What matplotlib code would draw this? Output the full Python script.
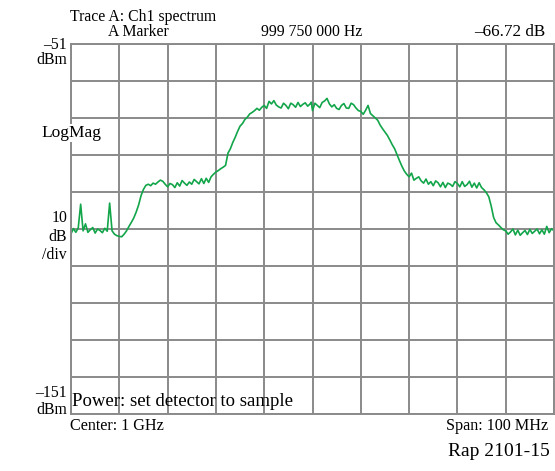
import numpy as np
import matplotlib
matplotlib.use("Agg")
import matplotlib.pyplot as plt

# ===== trace data (Ch1 spectrum, 0.5 MHz steps, 950..1050 MHz) =====
f_start = 950.0
f_stop = 1050.0
ref_level = -51
bottom_level = -151

level_dbm = [
    -102.3, -100.9, -101.9, -100.7, -94.3, -101.5, -99.6, -101.9, -101.2, -100.6,
    -102.1, -101.0, -101.4, -102.0, -100.8, -101.6, -94.0, -101.5, -102.4, -102.8,
    -103.0, -103.1, -102.4, -101.5, -100.3, -99.2, -98.0, -96.4, -94.5, -92.0,
    -90.3, -89.2, -88.9, -89.3, -88.6, -88.9, -88.3, -87.8, -88.1, -88.9,
    -89.6, -88.7, -89.0, -89.8, -88.5, -89.4, -87.9, -88.6, -89.2, -88.3,
    -88.9, -87.6, -88.2, -88.8, -87.4, -88.7, -87.3, -88.4, -86.9, -86.2,
    -85.6, -85.2, -84.7, -84.3, -83.8, -80.5, -79.3, -77.6, -76.2, -74.6,
    -73.2, -72.5, -71.4, -70.8, -69.9, -69.5, -69.0, -68.4, -68.9, -68.1,
    -67.6, -68.4, -66.5, -67.2, -66.3, -67.5, -68.0, -68.3, -67.0, -67.6,
    -68.5, -67.0, -67.4, -68.1, -66.8, -67.9, -67.3, -66.9, -67.8, -67.2,
    -69.0, -67.0, -67.6, -68.2, -66.8, -66.4, -65.7, -67.2, -68.0, -67.4,
    -68.4, -68.7, -67.6, -67.1, -68.3, -68.4, -67.0, -67.4, -68.3, -69.0,
    -69.2, -70.0, -68.9, -67.6, -69.8, -70.4, -71.0, -71.6, -72.9, -73.9,
    -74.8, -75.7, -76.9, -78.2, -79.3, -80.9, -82.5, -84.0, -85.3, -86.2,
    -86.9, -85.9, -87.8, -87.3, -86.9, -88.0, -88.6, -87.5, -88.9, -88.2,
    -89.3, -88.0, -88.5, -89.6, -88.4, -89.8, -88.6, -88.9, -89.5, -88.2,
    -88.7, -89.6, -88.2, -89.5, -89.0, -88.1, -89.7, -88.6, -89.9, -88.5,
    -89.8, -90.4, -91.2, -92.3, -94.8, -97.9, -99.3, -99.9, -100.6, -101.2,
    -101.5, -102.4, -101.8, -101.0, -102.6, -101.3, -102.7, -102.0, -101.4, -102.5,
    -101.1, -102.2, -101.6, -101.0, -102.3, -101.2, -102.4, -100.3, -102.0, -100.9,
    -101.5,
]

# marker A
marker_freq_hz = 999_750_000
marker_level = -66.72

freq_mhz = np.linspace(f_start, f_stop, len(level_dbm))
level = np.array(level_dbm)

# put the marker reading into the trace
k = np.searchsorted(freq_mhz, marker_freq_hz / 1e6)
freq_mhz = np.insert(freq_mhz, k, marker_freq_hz / 1e6)
level = np.insert(level, k, marker_level)

# ===== figure =====
W, H = 555, 471
fig = plt.figure(figsize=(W / 100, H / 100), dpi=100)
plt.rcParams["font.family"] = ["Liberation Serif", "DejaVu Serif"]

ax = fig.add_axes([71 / W, 57 / H, 483 / W, 370 / H])
ax.plot(freq_mhz, level, color="#12a54a", lw=1.2)
ax.set_xlim(f_start, f_stop)
ax.set_ylim(bottom_level, ref_level)
ax.set_xticks(np.linspace(f_start, f_stop, 11))
ax.set_yticks(np.arange(bottom_level, ref_level + 1, 10))
ax.grid(True, color="#8a8a8a", lw=1.4)
ax.set_axisbelow(True)
ax.tick_params(length=0, labelleft=False, labelbottom=False)
for s in ax.spines.values():
    s.set_color("#8a8a8a")
    s.set_linewidth(1.4)

fs = 11.3


def txt(x, y, s, ha="left", **kw):
    fig.text(x / W, 1 - y / H, s, ha=ha, va="center", fontsize=kw.pop("size", fs), **kw)


# header
txt(70, 17, "Trace A: Ch1 spectrum")
txt(108, 32, "A Marker")
hz = f"{marker_freq_hz:,}".replace(",", " ")
txt(312, 32, f"{hz} Hz", ha="center")
txt(545, 32, f"\u2013{abs(marker_level):.2f} dB", ha="right", size=12.3)

# left scale
txt(67, 45, f"\u2013{abs(ref_level)}", ha="right")
txt(67, 60, "dBm", ha="right")
txt(41, 133, "LogMag", size=12.5, bbox=dict(facecolor="white", edgecolor="none", pad=0.5))
txt(67, 218, "10", ha="right")
txt(67, 237, "dB", ha="right")
txt(67, 255, "/div", ha="right")
txt(67, 393, f"\u2013{abs(bottom_level)}", ha="right")
txt(67, 410, "dBm", ha="right")

# footer
txt(72, 402, "Power: set detector to sample", size=13.5)
txt(70, 426, f"Center: {(f_start + f_stop) / 2000:g} GHz", size=11.6)
txt(548, 426, f"Span: {f_stop - f_start:g} MHz", ha="right", size=11.6)
txt(550, 452, "Rap 2101-15", ha="right", size=14)

fig.savefig("out.png", dpi=100)
